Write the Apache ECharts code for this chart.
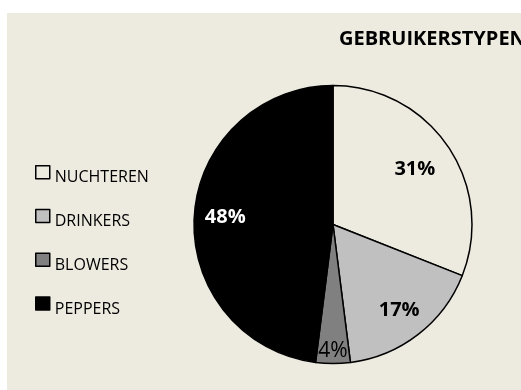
<!DOCTYPE html>
<html>
<head>
<meta charset="utf-8">
<script src="https://cdn.jsdelivr.net/npm/echarts@6/dist/echarts.min.js"></script>
<style>
  html, body { margin: 0; padding: 0; background: #ffffff; }
  #chart { width: 521px; height: 390px; }
</style>
</head>
<body>
<div id="chart"></div>
<script>
// Share of each user type (percent)
const categories = ['NUCHTEREN', 'DRINKERS', 'BLOWERS', 'PEPPERS'];
const shares = [31, 17, 4, 48];
const titleText = 'GEBRUIKERSTYPEN';

const PANEL = '#EDEAE0';
const fills = [PANEL, '#C0C0C0', '#808080', '#000000'];
const labelColors = ['#000000', '#000000', '#000000', '#ffffff'];
const labelWeights = ['bold', 'bold', 'normal', 'bold'];

const CENTER = [333, 224.5];
const R = 139;

const slices = categories.map((name, i) => ({
  name,
  value: shares[i],
  itemStyle: { color: fills[i] }
}));

// Label-only ring: the "inside" label sits midway between r0 and R,
// so picking r0 places each percentage at the wanted distance from the centre.
function labelRing(labelRadius, which) {
  return {
    type: 'pie',
    silent: true,
    center: CENTER,
    radius: [2 * labelRadius - R, R],
    startAngle: 90,
    clockwise: true,
    animation: false,
    itemStyle: { color: 'rgba(0,0,0,0)', borderWidth: 0 },
    labelLine: { show: false },
    emphasis: { disabled: true },
    data: categories.map((name, i) => ({
      name,
      value: shares[i],
      label: {
        show: which.includes(i),
        position: 'inside',
        formatter: '{c}%',
        color: labelColors[i],
        fontFamily: 'Open Sans',
        fontWeight: labelWeights[i],
        fontSize: i === 2 ? 21 : 20,
        textBorderWidth: 0,
        textShadowBlur: 0
      }
    }))
  };
}

const chart = echarts.init(document.getElementById('chart'), null, { renderer: 'canvas' });
chart.setOption({
  animation: false,
  backgroundColor: 'transparent',
  graphic: [{
    type: 'rect',
    left: 7, top: 13, z: -10,
    shape: { width: 514, height: 377 },
    style: { fill: PANEL }
  }],
  title: {
    text: titleText,
    left: 339,
    top: 29,
    padding: 0,
    textStyle: { fontFamily: 'Open Sans', fontWeight: 'bold', fontSize: 20, color: '#000000' }
  },
  legend: {
    orient: 'vertical',
    left: 35,
    top: 165,
    padding: 0,
    itemWidth: 14,
    itemHeight: 13,
    itemGap: 23,
    icon: 'rect',
    selectedMode: false,
    formatter: '{n|{name}}',
    textStyle: {
      fontFamily: 'Open Sans', fontSize: 16, color: '#000000',
      rich: {
        n: { fontFamily: 'Open Sans', fontSize: 16, color: '#000000', padding: [11, 0, 0, 0] }
      }
    },
    data: categories.map((name, i) => ({
      name,
      itemStyle: { color: fills[i], borderColor: '#000000', borderWidth: 1.5 }
    }))
  },
  series: [
    {
      type: 'pie',
      center: CENTER,
      radius: [0, R],
      startAngle: 90,
      clockwise: true,
      animation: false,
      itemStyle: { borderColor: '#000000', borderWidth: 1.5 },
      label: { show: false },
      labelLine: { show: false },
      emphasis: { disabled: true },
      data: slices
    },
    labelRing(96, [0]),
    labelRing(105, [1, 3]),
    labelRing(124, [2])
  ]
});
</script>
</body>
</html>
